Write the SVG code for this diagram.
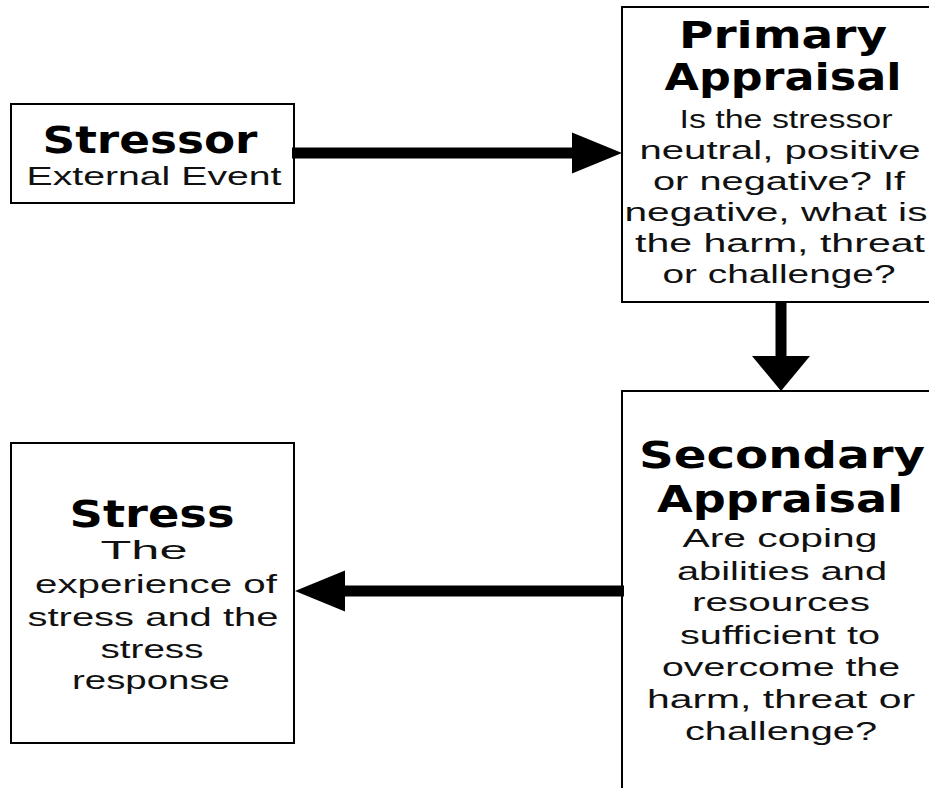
<svg xmlns="http://www.w3.org/2000/svg" width="929" height="788" viewBox="0 0 929 788">
<style>
.box{fill:#fff;stroke:#000;stroke-width:2}
.t{font-family:"DejaVu Sans","Liberation Sans",sans-serif;font-weight:bold;font-size:38px;fill:#000;text-anchor:middle}
.b{font-family:"Liberation Sans",Arial,sans-serif;font-size:25px;fill:#111;text-anchor:middle}
.c{stroke:#000;stroke-width:11;fill:none}
</style>
<defs>
<marker id="hR" markerUnits="userSpaceOnUse" viewBox="0 -25 50 50" markerWidth="50" markerHeight="50" refX="0" refY="0" orient="auto"><path d="M0,-20.5 L50,0 L0,20.5 Z" fill="#000"/></marker>
<marker id="hD" markerUnits="userSpaceOnUse" viewBox="0 -30 35 60" markerWidth="35" markerHeight="60" refX="0" refY="0" orient="auto"><path d="M0,-29 L35,0 L0,29 Z" fill="#000"/></marker>
</defs>
<rect width="929" height="788" fill="#fff"/>
<g id="stressor">
<rect class="box" x="11" y="104" width="283" height="99"/>
<text class="t" x="150" y="153" textLength="215" lengthAdjust="spacingAndGlyphs">Stressor</text>
<text class="b" x="154" y="185" textLength="255" lengthAdjust="spacingAndGlyphs">External Event</text>
</g>
<g id="primary">
<rect class="box" x="622" y="7" width="330" height="295"/>
<text class="t" x="783" y="48" textLength="208" lengthAdjust="spacingAndGlyphs">Primary</text>
<text class="t" x="783" y="90" textLength="237" lengthAdjust="spacingAndGlyphs">Appraisal</text>
<text class="b" x="786" y="128" textLength="213" lengthAdjust="spacingAndGlyphs">Is the stressor</text>
<text class="b" x="780" y="159" textLength="281" lengthAdjust="spacingAndGlyphs">neutral, positive</text>
<text class="b" x="779" y="190" textLength="252" lengthAdjust="spacingAndGlyphs">or negative? If</text>
<text class="b" x="776" y="221" textLength="303" lengthAdjust="spacingAndGlyphs">negative, what is</text>
<text class="b" x="780" y="252" textLength="290" lengthAdjust="spacingAndGlyphs">the harm, threat</text>
<text class="b" x="779" y="283" textLength="233" lengthAdjust="spacingAndGlyphs">or challenge?</text>
</g>
<g id="secondary">
<rect class="box" x="622" y="391" width="330" height="420"/>
<text class="t" x="782" y="468" textLength="286" lengthAdjust="spacingAndGlyphs">Secondary</text>
<text class="t" x="780" y="512" textLength="246" lengthAdjust="spacingAndGlyphs">Appraisal</text>
<text class="b" x="780" y="547" textLength="195" lengthAdjust="spacingAndGlyphs">Are coping</text>
<text class="b" x="782" y="580" textLength="210" lengthAdjust="spacingAndGlyphs">abilities and</text>
<text class="b" x="781" y="611" textLength="178" lengthAdjust="spacingAndGlyphs">resources</text>
<text class="b" x="780" y="644" textLength="200" lengthAdjust="spacingAndGlyphs">sufficient to</text>
<text class="b" x="781" y="676" textLength="238" lengthAdjust="spacingAndGlyphs">overcome the</text>
<text class="b" x="781" y="708" textLength="268" lengthAdjust="spacingAndGlyphs">harm, threat or</text>
<text class="b" x="781" y="740" textLength="192" lengthAdjust="spacingAndGlyphs">challenge?</text>
</g>
<g id="stress">
<rect class="box" x="11" y="443" width="283" height="300"/>
<text class="t" x="152" y="527" textLength="165" lengthAdjust="spacingAndGlyphs">Stress</text>
<text class="b" x="144" y="559" textLength="87" lengthAdjust="spacingAndGlyphs">The</text>
<text class="b" x="156" y="593" textLength="242" lengthAdjust="spacingAndGlyphs">experience of</text>
<text class="b" x="153" y="626" textLength="251" lengthAdjust="spacingAndGlyphs">stress and the</text>
<text class="b" x="152" y="658" textLength="103" lengthAdjust="spacingAndGlyphs">stress</text>
<text class="b" x="151" y="689" textLength="158" lengthAdjust="spacingAndGlyphs">response</text>
</g>
<g id="connectors">
<line class="c" x1="292" y1="153" x2="572" y2="153" marker-end="url(#hR)"/>
<line class="c" x1="781" y1="302" x2="781" y2="356" marker-end="url(#hD)"/>
<line class="c" x1="624" y1="591" x2="345" y2="591" marker-end="url(#hR)"/>
</g>
</svg>
